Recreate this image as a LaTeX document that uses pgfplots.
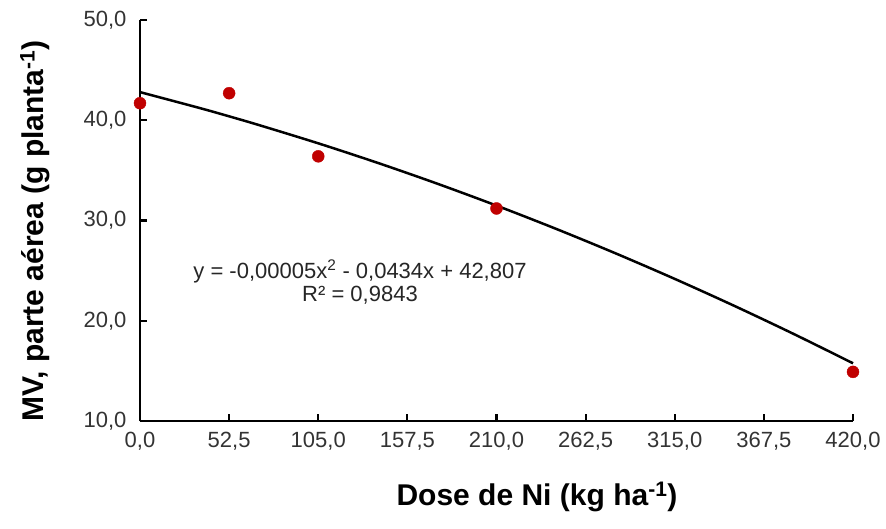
\documentclass[border=0pt]{standalone}
\usepackage{fontspec}
\setmainfont{Liberation Sans}
\usepackage{pgfplots}
\pgfplotsset{compat=1.18}
\definecolor{ptred}{HTML}{C00000}
\begin{document}
\begin{tikzpicture}
\useasboundingbox (-140pt,-107pt) rectangle (746pt,421pt);
\begin{axis}[
  at={(0pt,0pt)}, anchor=south west,
  scale only axis, width=713pt, height=401pt,
  xmin=0, xmax=420, ymin=10, ymax=50,
  axis x line*=bottom, axis y line*=left,
  axis line style={line width=2.8pt, -},
  xtick={0,52.5,105,157.5,210,262.5,315,367.5,420},
  ytick={10,20,30,40,50},
  tick align=inside,
  major tick length=7pt,
  tick style={line width=2.2pt, black},
  /pgf/number format/.cd, fixed, fixed zerofill, precision=1, use comma, assume math mode=true,
  /pgfplots/.cd,
  ticklabel style={font=\fontsize{22}{26}\selectfont, text=black!80},
  xticklabel style={yshift=-8pt},
  yticklabel style={xshift=-10pt},
  clip=false,
]
\addplot[black, line width=2.5pt, smooth] coordinates {
(0,42.807) (35,41.227) (52.5,40.391) (70,39.524) (105,37.699) (140,35.751)
(175,33.681) (210,31.488) (245,29.173) (280,26.735) (315,24.175)
(350,21.492) (385,18.687) (420,15.759)};
\addplot[only marks, mark=*, mark size=6pt, mark options={fill=ptred, draw=ptred}] coordinates {
(0,41.7) (52.5,42.7) (105,36.4) (210,31.2) (420,14.9)};
\end{axis}
\node[font=\fontsize{22}{26}\selectfont, text=black!85, align=center] at (220pt,139pt)
  {y = -0,00005x\textsuperscript{2} - 0,0434x + 42,807\\[-3pt] R² = 0,9843};
\node[font=\bfseries\fontsize{30}{34}\selectfont] at (397pt,-76pt) {Dose de Ni (kg ha\textsuperscript{-1})};
\node[font=\bfseries\fontsize{30}{34}\selectfont, rotate=90] at (-105pt,190pt) {MV, parte aérea (g planta\textsuperscript{-1})};
\end{tikzpicture}
\end{document}
